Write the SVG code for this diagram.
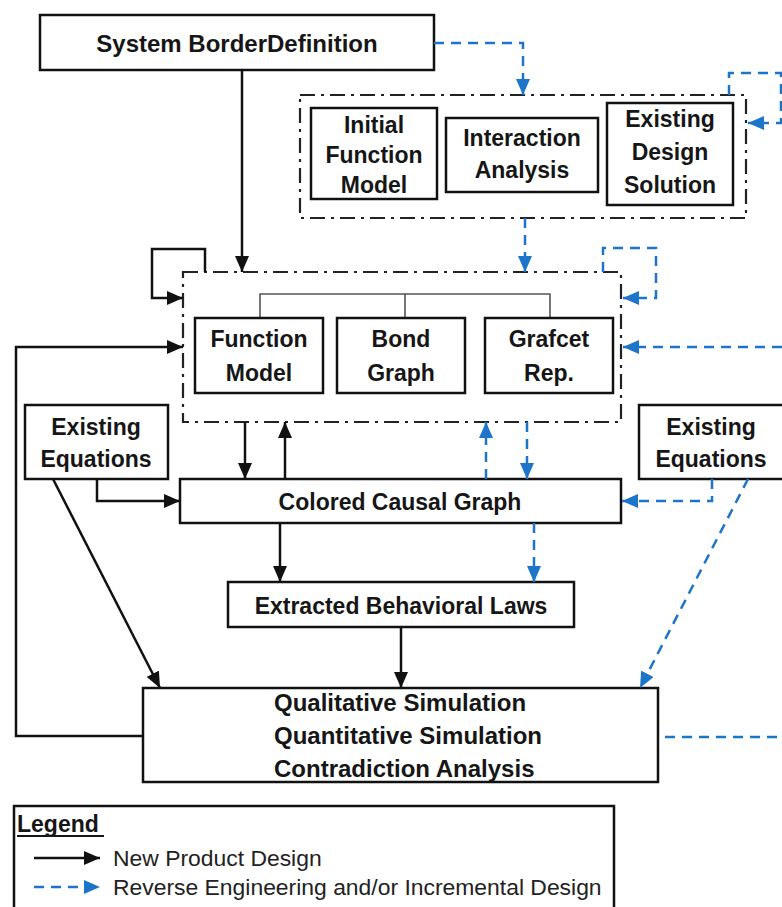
<svg xmlns="http://www.w3.org/2000/svg" width="782" height="907" viewBox="0 0 782 907">
  <style>
    .box { fill: #fff; stroke: #111; stroke-width: 2.5; }
    .group { fill: none; stroke: #222; stroke-width: 2.2; stroke-dasharray: 15 6 3 6; }
    .tree { fill: none; stroke: #555; stroke-width: 1.6; }
    .solid { fill: none; stroke: #111; stroke-width: 2.5; }
    .dash { fill: none; stroke: #1C75C8; stroke-width: 2.5; stroke-dasharray: 10 7; }
    .lbl { font-family: "Liberation Sans", Arial, sans-serif; font-weight: bold; font-size: 23px; fill: #161616; text-anchor: middle; }
    .big { font-size: 24px; }
    .lft { text-anchor: start; }
    .leg { font-family: "Liberation Sans", Arial, sans-serif; font-size: 22.9px; fill: #222; }
  </style>
  <defs>
    <marker id="ah-black" markerUnits="userSpaceOnUse" markerWidth="16" markerHeight="14" refX="16" refY="7" orient="auto">
      <path d="M0,0 L16,7 L0,14 z" fill="#111"/>
    </marker>
    <marker id="ah-blue" markerUnits="userSpaceOnUse" markerWidth="16" markerHeight="14" refX="16" refY="7" orient="auto">
      <path d="M0,0 L16,7 L0,14 z" fill="#1C75C8"/>
    </marker>
  </defs>

  <rect width="782" height="907" fill="#fff"/>

  <!-- system border -->
  <g id="system-border">
    <rect class="box" x="40" y="15" width="394" height="55"/>
    <text class="lbl big" x="237" y="52">System BorderDefinition</text>
  </g>

  <!-- analysis group -->
  <g id="analysis-group">
    <rect class="group" x="300" y="95" width="446" height="123"/>
  </g>
  <g id="initial-function-model">
    <rect class="box" x="311" y="108" width="126" height="91"/>
    <text class="lbl" x="374" y="133">Initial</text>
    <text class="lbl" x="374" y="163">Function</text>
    <text class="lbl" x="374" y="193">Model</text>
  </g>
  <g id="interaction-analysis">
    <rect class="box" x="446" y="118" width="152" height="74"/>
    <text class="lbl" x="522" y="146">Interaction</text>
    <text class="lbl" x="522" y="178">Analysis</text>
  </g>
  <g id="existing-design-solution">
    <rect class="box" x="607" y="103" width="126" height="102"/>
    <text class="lbl" x="670" y="127">Existing</text>
    <text class="lbl" x="670" y="160">Design</text>
    <text class="lbl" x="670" y="193">Solution</text>
  </g>

  <!-- model group -->
  <g id="model-group">
    <rect class="group" x="183" y="272" width="438" height="150"/>
    <path class="tree" d="M260,318 V294 H550 V318 M405,294 V318"/>
  </g>
  <g id="function-model">
    <rect class="box" x="195" y="318" width="128" height="75"/>
    <text class="lbl" x="259" y="347">Function</text>
    <text class="lbl" x="259" y="381">Model</text>
  </g>
  <g id="bond-graph">
    <rect class="box" x="337" y="318" width="128" height="75"/>
    <text class="lbl" x="401" y="347">Bond</text>
    <text class="lbl" x="401" y="381">Graph</text>
  </g>
  <g id="grafcet-rep">
    <rect class="box" x="485" y="318" width="128" height="75"/>
    <text class="lbl" x="549" y="347">Grafcet</text>
    <text class="lbl" x="549" y="381">Rep.</text>
  </g>

  <g id="existing-equations-left">
    <rect class="box" x="25" y="405" width="143" height="74"/>
    <text class="lbl" x="96" y="435">Existing</text>
    <text class="lbl" x="96" y="467">Equations</text>
  </g>
  <g id="existing-equations-right">
    <rect class="box" x="639" y="405" width="146" height="74"/>
    <text class="lbl" x="711" y="435">Existing</text>
    <text class="lbl" x="711" y="467">Equations</text>
  </g>

  <g id="colored-causal-graph">
    <rect class="box" x="180" y="479" width="441" height="44"/>
    <text class="lbl" x="400" y="510">Colored Causal Graph</text>
  </g>

  <g id="extracted-laws">
    <rect class="box" x="228" y="582" width="346" height="45"/>
    <text class="lbl" x="401" y="614">Extracted Behavioral Laws</text>
  </g>

  <g id="simulation">
    <rect class="box" x="143" y="688" width="515" height="94"/>
    <text class="lbl big lft" x="274" y="711">Qualitative Simulation</text>
    <text class="lbl big lft" x="274" y="744">Quantitative Simulation</text>
    <text class="lbl big lft" x="274" y="777">Contradiction Analysis</text>
  </g>

  <!-- connectors -->
  <g id="connectors">
    <!-- new product design flow -->
    <path class="solid" d="M242,70 V272" marker-end="url(#ah-black)"/>
    <path class="solid" d="M205,272 V249 H152 V298 H183" marker-end="url(#ah-black)"/>
    <path class="solid" d="M143,736 H16 V347 H183" marker-end="url(#ah-black)"/>
    <path class="solid" d="M245,422 V479" marker-end="url(#ah-black)"/>
    <path class="solid" d="M285,479 V422" marker-end="url(#ah-black)"/>
    <path class="solid" d="M97,479 V501 H180" marker-end="url(#ah-black)"/>
    <path class="solid" d="M53,479 L160,688" marker-end="url(#ah-black)"/>
    <path class="solid" d="M280,523 V582" marker-end="url(#ah-black)"/>
    <path class="solid" d="M401,627 V688" marker-end="url(#ah-black)"/>

    <!-- reverse engineering / incremental design flow -->
    <path class="dash" d="M434,43 H523 V95" marker-end="url(#ah-blue)"/>
    <path class="dash" d="M729,95 V73 H781 V123 H748" marker-end="url(#ah-blue)"/>
    <path class="dash" d="M525,218 V272" marker-end="url(#ah-blue)"/>
    <path class="dash" d="M603,272 V248 H656 V298 H623" marker-end="url(#ah-blue)"/>
    <path class="dash" d="M782,347 H623" marker-end="url(#ah-blue)"/>
    <path class="dash" d="M486,479 V422" marker-end="url(#ah-blue)"/>
    <path class="dash" d="M527,422 V479" marker-end="url(#ah-blue)"/>
    <path class="dash" d="M712,479 V501 H622" marker-end="url(#ah-blue)"/>
    <path class="dash" d="M748,479 L640,688" marker-end="url(#ah-blue)"/>
    <path class="dash" d="M534,523 V582" marker-end="url(#ah-blue)"/>
    <path class="dash" d="M665,737 H782"/>
  </g>

  <!-- legend -->
  <g id="legend">
    <rect class="box" x="14" y="806" width="600" height="120"/>
    <text class="lbl lft" x="17" y="832">Legend</text>
    <line x1="17" y1="836" x2="104" y2="836" stroke="#161616" stroke-width="2"/>
    <path class="solid" d="M34,858 H100" marker-end="url(#ah-black)"/>
    <text class="leg" x="113" y="866">New Product Design</text>
    <path class="dash" d="M34,887 H100" marker-end="url(#ah-blue)"/>
    <text class="leg" x="113" y="895">Reverse Engineering and/or Incremental Design</text>
  </g>
</svg>
